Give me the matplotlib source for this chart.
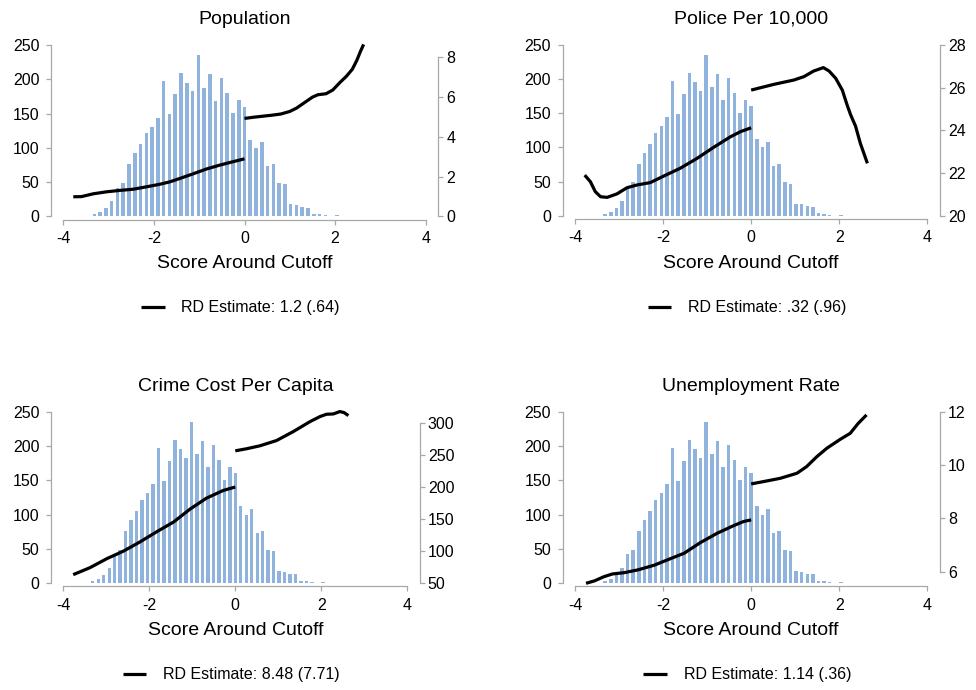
import numpy as np
import matplotlib
matplotlib.use("Agg")
import matplotlib.pyplot as plt

plt.rcParams["font.family"] = ["Liberation Sans", "DejaVu Sans"]
plt.rcParams["axes.unicode_minus"] = False

# histogram of the running variable (same in every panel)
bin_width = 0.1275
bin_counts = [3, 6, 12, 22, 42, 49, 76, 92, 105, 121, 131, 144, 197, 149, 178,
              209, 195, 183, 235, 188, 207, 169, 202, 180, 151, 170, 160, 112,
              100, 108, 73, 76, 49, 47, 18, 17, 14, 13, 4, 3, 2, 0, 2]
bin_centers = (np.arange(len(bin_counts)) - 26) * bin_width

# fitted outcome lines, left and right of the cutoff
pop_left_x = [-3.78, -3.60, -3.34, -3.05, -2.76, -2.46, -2.17, -1.87, -1.65,
              -1.43, -1.14, -0.85, -0.55, -0.26, 0.0]
pop_left_y = [0.99, 1.00, 1.14, 1.24, 1.31, 1.37, 1.49, 1.62, 1.74, 1.91,
              2.14, 2.38, 2.58, 2.75, 2.90]
pop_right_x = [0.0, 0.20, 0.40, 0.60, 0.80, 1.00, 1.15, 1.36, 1.50, 1.62,
               1.80, 1.95, 2.10, 2.25, 2.38, 2.48, 2.56, 2.63]
pop_right_y = [4.93, 4.99, 5.04, 5.09, 5.15, 5.28, 5.45, 5.78, 6.00, 6.12,
               6.17, 6.36, 6.72, 7.05, 7.40, 7.85, 8.30, 8.65]

police_left_x = [-3.78, -3.65, -3.54, -3.42, -3.27, -3.05, -2.82, -2.59, -2.29,
                 -1.98, -1.61, -1.23, -0.85, -0.47, -0.24, 0.0]
police_left_y = [21.91, 21.60, 21.14, 20.90, 20.87, 21.03, 21.32, 21.45, 21.56,
                 21.87, 22.23, 22.69, 23.21, 23.70, 23.94, 24.12]
police_right_x = [0.0, 0.21, 0.52, 0.97, 1.20, 1.42, 1.64, 1.77, 1.92, 2.07,
                  2.18, 2.26, 2.37, 2.48, 2.64]
police_right_y = [25.88, 25.99, 26.15, 26.35, 26.51, 26.77, 26.93, 26.77, 26.43,
                  25.88, 25.18, 24.72, 24.20, 23.39, 22.46]

crime_left_x = [-3.77, -3.38, -2.99, -2.60, -2.22, -1.83, -1.44, -1.05, -0.67,
                -0.28, 0.0]
crime_left_y = [63.5, 74.4, 88.4, 100.3, 114.5, 130.4, 145.5, 166.0, 183.0,
                195.0, 200.4]
crime_right_x = [0.0, 0.26, 0.57, 0.96, 1.35, 1.74, 1.97, 2.12, 2.28, 2.43,
                 2.53, 2.63]
crime_right_y = [256.9, 260.1, 264.7, 273.0, 287.0, 302.6, 310.4, 314.0, 314.5,
                 318.2, 316.6, 311.9]

unemp_left_x = [-3.75, -3.56, -3.34, -3.15, -2.88, -2.58, -2.20, -1.90, -1.52,
                -1.15, -0.77, -0.39, -0.17, 0.0]
unemp_left_y = [5.56, 5.65, 5.81, 5.91, 5.96, 6.06, 6.24, 6.44, 6.69, 7.09,
                7.44, 7.73, 7.88, 7.94]
unemp_right_x = [0.0, 0.29, 0.66, 1.04, 1.26, 1.49, 1.72, 2.02, 2.25, 2.43, 2.62]
unemp_right_y = [9.29, 9.38, 9.50, 9.69, 9.94, 10.31, 10.63, 10.96, 11.19,
                 11.56, 11.88]

titles = ["Population", "Police Per 10,000", "Crime Cost Per Capita",
          "Unemployment Rate"]
rd_labels = ["RD Estimate: 1.2 (.64)", "RD Estimate: .32 (.96)",
             "RD Estimate: 8.48 (7.71)", "RD Estimate: 1.14 (.36)"]
right_ticks = [[0, 2, 4, 6, 8], [20, 22, 24, 26, 28],
               [50, 100, 150, 200, 250, 300], [6, 8, 10, 12]]
right_lims = [(0, 8.62), (20, 28), (51, 318), (5.56, 12.0)]
lines = [(pop_left_x, pop_left_y, pop_right_x, pop_right_y),
         (police_left_x, police_left_y, police_right_x, police_right_y),
         (crime_left_x, crime_left_y, crime_right_x, crime_right_y),
         (unemp_left_x, unemp_left_y, unemp_right_x, unemp_right_y)]

W, H = 976, 690
# plot regions in pixels: x of -4, x of 4, y of 250, y of 0
boxes = [(63.3, 425.7, 45.0, 216.5), (575.0, 927.3, 44.7, 216.0),
         (63.3, 407.3, 411.7, 583.3), (575.0, 927.3, 411.7, 583.3)]

BAR = "#8fb3dd"
GREY = "#a8a8a8"

fig = plt.figure(figsize=(W / 100, H / 100), dpi=100)

for i in range(4):
    x0, x1, yt, yb = boxes[i]
    ax = fig.add_axes([x0 / W, 1 - yb / H, (x1 - x0) / W, (yb - yt) / H])
    ax.bar(bin_centers, bin_counts, width=bin_width * 0.62, color=BAR,
           linewidth=0)
    ax.set_xlim(-4, 4)
    ax.set_ylim(0, 250)
    ax.set_xticks([-4, -2, 0, 2, 4])
    ax.set_yticks([0, 50, 100, 150, 200, 250])

    ax2 = ax.twinx()
    lx, ly, rx, ry = lines[i]
    h, = ax2.plot(lx, ly, color="black", lw=2.3, clip_on=False,
                  solid_capstyle="butt", solid_joinstyle="round")
    ax2.plot(rx, ry, color="black", lw=2.3, clip_on=False,
             solid_capstyle="butt", solid_joinstyle="round")
    ax2.set_ylim(*right_lims[i])
    ax2.set_yticks(right_ticks[i])

    for a in (ax, ax2):
        for s in a.spines.values():
            s.set_color(GREY)
            s.set_linewidth(0.9)
        a.spines["top"].set_visible(False)
        a.tick_params(colors=GREY, labelcolor="black", labelsize=11.5,
                      length=3.6, width=0.9, direction="out")
    ax.spines["right"].set_visible(False)
    ax2.spines["left"].set_visible(False)
    ax2.spines["bottom"].set_visible(False)
    ax.spines["left"].set_position(("outward", 8.6))
    ax.spines["bottom"].set_position(("outward", 2.2))
    ax2.spines["right"].set_position(("outward", 9.2))
    ax.spines["left"].set_bounds(0, 250)
    ax.spines["bottom"].set_bounds(-4, 4)
    ax2.spines["right"].set_bounds(right_ticks[i][0], right_ticks[i][-1])
    ax.tick_params(axis="y", pad=5)
    ax.tick_params(axis="x", pad=4.5)
    ax2.tick_params(axis="y", pad=2)

    cx = (x0 + x1) / 2
    row = 0 if i < 2 else 366.7
    fig.text(cx / W, 1 - (24 + row) / H, titles[i], ha="center",
             va="baseline", fontsize=14)
    fig.text(cx / W, 1 - (268 + row) / H, "Score Around Cutoff",
             ha="center", va="baseline", fontsize=14)
    ax2.legend([h], [rd_labels[i]], loc="center", frameon=False,
               fontsize=11.5, handlelength=1.47, handletextpad=1.05,
               bbox_to_anchor=((cx - 4) / W, 1 - (308 + row) / H),
               bbox_transform=fig.transFigure)

fig.savefig("out.png", dpi=100)
